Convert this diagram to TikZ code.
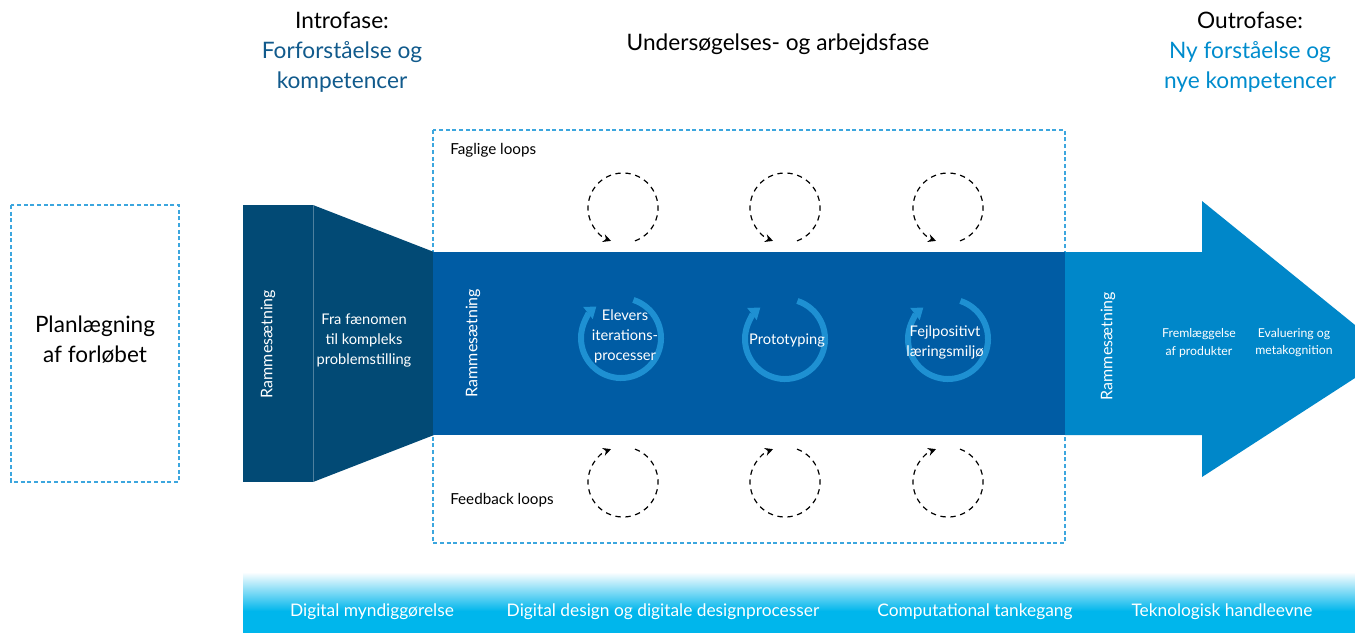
\documentclass[tikz,border=0pt]{standalone}
\usepackage{fontspec}
\setmainfont{Lato}
\usetikzlibrary{arrows.meta}
\definecolor{navy}{RGB}{2,74,117}
\definecolor{bandblue}{RGB}{0,92,164}
\definecolor{arrowblue}{RGB}{0,135,201}
\definecolor{loopblue}{RGB}{30,144,210}
\definecolor{dashblue}{RGB}{60,166,222}
\definecolor{stripcyan}{RGB}{0,182,236}
\definecolor{introblue}{RGB}{17,90,140}
\definecolor{outroblue}{RGB}{0,140,205}
\tikzset{
  dashbox/.style={draw=dashblue, line width=1.3pt, dash pattern=on 3pt off 2pt},
  wtext/.style={text=white, align=center, inner sep=0pt},
  btext/.style={text=black, align=center, inner sep=0pt},
  dloop/.style={draw=black, line width=0.9pt, dash pattern=on 4pt off 3.5pt, -{Stealth[length=6pt,width=6pt]}},
  bloop/.style={draw=loopblue, line width=4.5pt, -{Triangle[length=8pt,width=11pt]}},
  hdr/.style={align=center, inner sep=0pt, font=\fontsize{17}{22.5}\selectfont},
  small/.style={font=\fontsize{11}{15}\selectfont},
  rot/.style={font=\fontsize{12}{15}\selectfont, rotate=90},
  tiny/.style={font=\fontsize{9.2}{12.8}\selectfont},
  strip/.style={text=white, inner sep=0pt, font=\fontsize{13}{15}\selectfont},
}
\begin{document}
\begin{tikzpicture}[x=0.75pt,y=-0.75pt]
\useasboundingbox (0,0) rectangle (1355,633);

% headers
\node[hdr] (intro) at (342,52) {Introfase:\\\textcolor{introblue}{Forforståelse og}\\\textcolor{introblue}{kompetencer}};
\node[hdr] (mid) at (778,44) {Undersøgelses- og arbejdsfase};
\node[hdr] (outro) at (1250,52) {Outrofase:\\\textcolor{outroblue}{Ny forståelse og}\\\textcolor{outroblue}{nye kompetencer}};

% planning box
\draw[dashbox] (11,205) rectangle (179,482);
\node[btext, font=\fontsize{16.9}{22.5}\selectfont] (plan) at (95,340) {Planlægning\\af forløbet};

% dashed work box
\draw[dashbox] (433,130) rectangle (1065,543);
\node[btext, anchor=west, font=\fontsize{11.4}{12}\selectfont] (fag) at (450,150) {Faglige loops};
\node[btext, anchor=west, font=\fontsize{11.4}{12}\selectfont] (feed) at (450,500) {Feedback loops};

% intro funnel
\fill[navy] (243,205) rectangle (314,482);
\fill[navy] (313,205) -- (434,252) -- (434,435) -- (313,482) -- cycle;
\draw[navy!70!white, line width=0.4pt] (313.5,205) -- (313.5,482);

% main band
\fill[bandblue] (433,252) rectangle (1066,435);

% outro arrow
\fill[arrowblue] (1065,252) -- (1202,252) -- (1202,201) -- (1355,325) -- (1355,378) -- (1202,477) -- (1202,435) -- (1065,435) -- cycle;

% texts in funnel / band / arrow
\node[wtext, rot] (r1) at (268,344) {Rammesætning};
\node[wtext, small] (fra) at (364,340) {Fra fænomen\\til kompleks\\problemstilling};
\node[wtext, rot] (r2) at (473,343) {Rammesætning};
\node[wtext, rot] (r3) at (1108,346) {Rammesætning};
\node[wtext, tiny] (frem) at (1199,343) {Fremlæggelse\\af produkter};
\node[wtext, tiny] (eval) at (1294,343) {Evaluering og\\metakognition};

% circular process arrows
\coordinate (c1) at (621,338);
\coordinate (c2) at (785,339);
\coordinate (c3) at (948,339);
\foreach \c in {c1,c2,c3}{
  \draw[bloop] (\c) ++(-72:40) arc (-72:232:40);
}
\node[wtext, small] (elev) at (625,336) {Elevers\\iterations-\\processer};
\node[wtext, small] (proto) at (787,340) {Prototyping};
\node[wtext, small] (fejl) at (945,342) {Fejlpositivt\\læringsmiljø};

% dashed loops
\coordinate (t1) at (623,208);
\coordinate (t2) at (785,208);
\coordinate (t3) at (948,208);
\coordinate (b1) at (623,482);
\coordinate (b2) at (785,482);
\coordinate (b3) at (948,482);
\foreach \c in {t1,t2,t3}{
  \draw[dloop] (\c) ++(70:35) arc (70:-250:35);
}
\foreach \c in {b1,b2,b3}{
  \draw[dloop] (\c) ++(-70:35) arc (-70:250:35);
}

% bottom strip
\shade[top color=white, bottom color=stripcyan] (243,572) rectangle (1355,611);
\fill[stripcyan] (243,610.5) rectangle (1355,633);
\node[strip] (s1) at (372,612) {Digital myndiggørelse};
\node[strip] (s2) at (663,612) {Digital design og digitale designprocesser};
\node[strip] (s3) at (975,612) {Computational tankegang};
\node[strip] (s4) at (1222,612) {Teknologisk handleevne};
\end{tikzpicture}
\end{document}
